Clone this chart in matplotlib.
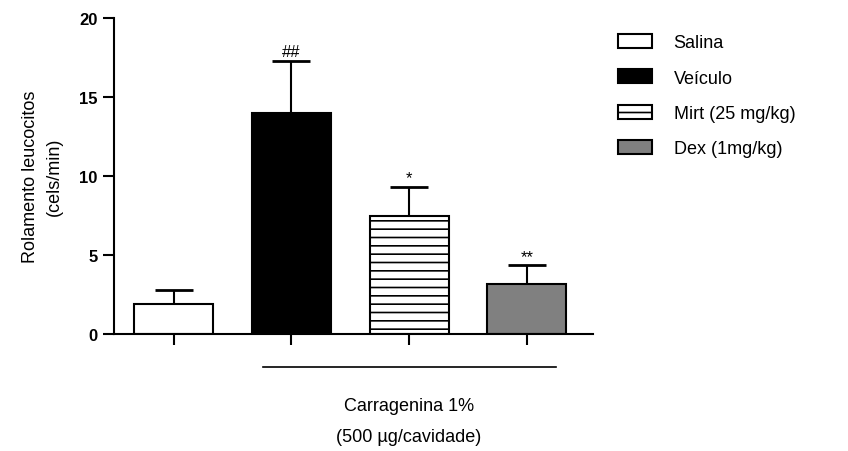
import matplotlib
matplotlib.use("Agg")
import matplotlib.pyplot as plt
import matplotlib.transforms as mtransforms

plt.rcParams['font.family'] = ['Liberation Sans', 'DejaVu Sans']
plt.rcParams['hatch.linewidth'] = 1.2

groups = ["Salina", "Veículo", "Mirt (25 mg/kg)", "Dex (1mg/kg)"]
means = [1.9, 14.0, 7.45, 3.15]
errors = [0.85, 3.3, 1.85, 1.2]
marks = ["", "##", "*", "**"]
colors = ["white", "black", "white", "#808080"]
hatches = [None, None, "--", None]

fig = plt.figure(figsize=(8.48, 4.52), dpi=100)
ax = fig.add_axes([0.134, 0.259, 0.565, 0.699])

x = list(range(len(groups)))
for i in x:
    ax.bar(x[i], means[i], width=0.67, color=colors[i], edgecolor="black",
           linewidth=1.5, hatch=hatches[i], label=groups[i], zorder=2)
    ax.errorbar(x[i], means[i], yerr=[[0], [errors[i]]], fmt="none",
                ecolor="black", elinewidth=1.5, capsize=14, capthick=2, zorder=1)
    ax.text(x[i], means[i] + errors[i] + 0.1, marks[i], ha="center", va="bottom",
            fontsize=12)

ax.set_xlim(-0.51, 3.56)
ax.set_ylim(0, 20)
ax.set_yticks([0, 5, 10, 15, 20])
ax.set_xticks(x)
ax.set_xticklabels([])
ax.tick_params(axis="y", direction="out", length=8, width=1.5, labelsize=12)
ax.tick_params(axis="x", direction="out", length=8, width=1.5)
for lab in ax.get_yticklabels():
    lab.set_fontweight("bold")
ax.spines["top"].set_visible(False)
ax.spines["right"].set_visible(False)
ax.spines["left"].set_linewidth(1.5)
ax.spines["bottom"].set_linewidth(1.5)
ax.set_ylabel("Rolamento leucocitos\n(cels/min)", fontsize=13, labelpad=12,
              linespacing=1.5)

# carragenina bracket under the axis
trans = mtransforms.blended_transform_factory(ax.transData, ax.transAxes)
ax.plot([0.76, 3.25], [-0.105, -0.105], color="black", lw=1.2,
        transform=trans, clip_on=False)
ax.text(2.0, -0.225, "Carragenina 1%", transform=trans, ha="center",
        va="center", fontsize=13)
ax.text(2.0, -0.325, "(500 µg/cavidade)", transform=trans, ha="center",
        va="center", fontsize=13)

leg = ax.legend(loc="upper left", bbox_to_anchor=(1.018, 1.0), frameon=False,
                fontsize=13, handlelength=1.9, handleheight=0.8,
                labelspacing=1.0, handletextpad=1.2)

fig.savefig("out.png", dpi=100)
